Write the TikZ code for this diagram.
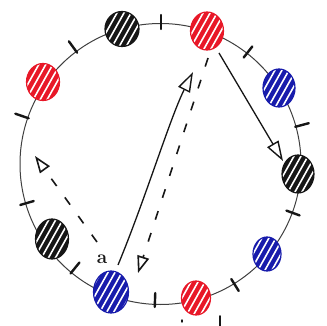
\documentclass[tikz,border=0pt]{standalone}
\usetikzlibrary{arrows.meta,shapes.geometric}
\definecolor{dred}{RGB}{232,24,40}
\definecolor{dblue}{RGB}{24,28,172}
\definecolor{dblack}{RGB}{22,22,22}
\begin{document}
\begin{tikzpicture}[x=1pt,y=-1pt,
  disc/.style={ellipse, inner sep=0pt, minimum width=32pt, minimum height=36pt,
    draw=#1, fill=#1, line width=1.2pt,
    path picture={\foreach \i in {-42,-35,...,42}{
      \draw[white,line width=1.6pt]
        ([xshift={(\i-14)*1pt},yshift=-25pt]path picture bounding box.center) --
        ([xshift={(\i+14)*1pt},yshift=25pt]path picture bounding box.center);}}},
  tickmark/.style={line width=2.4pt, line cap=round, dblack},
  ring/.style={line width=1pt, black!75},
  solidarrow/.style={line width=1.3pt, dblack, -{Triangle[open,length=20pt,width=13pt,line width=1.4pt]}},
  dasharrow/.style={line width=1.6pt, dblack, dash pattern=on 9pt off 14pt,
    -{Triangle[open,length=17pt,width=12pt,line width=1.6pt]}},
  lbl/.style={font=\fontsize{19}{19}\selectfont\bfseries, text=dblack, inner sep=0pt}
]
\useasboundingbox (0,0) rectangle (327,326);
\fill[white] (0,0) rectangle (327,326);

% ring
\draw[ring] (160.5,164) circle[radius=140.5];

% tick marks
\foreach \x/\y/\a in {161/22/90, 73/47/126, 22/116/161, 248/52/52, 302/125/15,
                      27/203/196, 75/268/231, 155/300/268, 235/285/302, 293/213/340}{
  \draw[tickmark,shift={(\x,\y)},rotate=\a] (-7,0) -- (7,0);
}

% discs
\node[disc=dblack, minimum width=34pt, minimum height=35pt] (k1) at (122,29) {};
\node[disc=dred,   minimum width=33pt, minimum height=38pt] (r1) at (207,31) {};
\node[disc=dred,   minimum width=33pt, minimum height=37pt] (r2) at (43,82) {};
\node[disc=dblue,  minimum width=32pt, minimum height=38pt] (b1) at (279,88) {};
\node[disc=dblack, minimum width=32pt, minimum height=38pt] (k2) at (298,174) {};
\node[disc=dblue,  minimum width=28pt, minimum height=34pt] (b2) at (267,254) {};
\node[disc=dred,   minimum width=29pt, minimum height=34pt] (r3) at (196,298) {};
\node[disc=dblue,  minimum width=35pt, minimum height=42pt] (b3) at (111,292) {};
\node[disc=dblack, minimum width=33pt, minimum height=40pt] (k3) at (52,239) {};

% connector end points
\coordinate (s1) at (219,53);
\coordinate (e1) at (283,161);
\coordinate (s2) at (118,265);
\coordinate (e2) at (193,72);
\coordinate (s3) at (208,58);
\coordinate (e3) at (138,273);
\coordinate (s4) at (97,242);
\coordinate (e4) at (35,156);

\draw[solidarrow] (s1) -- (e1);
\draw[solidarrow] (s2) .. controls (145,200) and (170,118) .. (e2);
\draw[dasharrow] (s3) -- (e3);
\draw[dasharrow] (s4) -- (e4);

% label
\node[lbl] (la) at (102,259) {a};

% small marks at the bottom edge
\draw[line width=1.4pt, dblack, line cap=round] (182,320) -- (182,322);
\draw[line width=1.6pt, dblack, line cap=round] (220,316) -- (220,326);
\end{tikzpicture}
\end{document}
